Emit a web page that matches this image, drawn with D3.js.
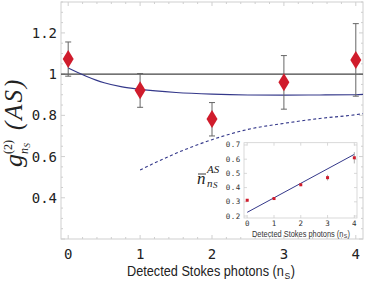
<!DOCTYPE html>
<html><head><meta charset="utf-8">
<script src="https://cdn.jsdelivr.net/npm/d3@7"></script>
<style>body{margin:0;background:#fff}svg{display:block}</style>
</head><body>
<svg id="c" width="365" height="282"></svg>
<script>
// ---- data ----
const stokes = [0, 1, 2, 3, 4];
const g2 = [1.073, 0.922, 0.782, 0.960, 1.068];
const g2Hi = [1.156, 1.003, 0.862, 1.090, 1.245];
const g2Lo = [0.990, 0.839, 0.700, 0.830, 0.893];
const theoryX = [0, 0.25, 0.5, 0.75, 1, 1.5, 2, 2.5, 3, 3.5, 4, 4.1];
const theoryY = [1.030, 0.990, 0.958, 0.938, 0.926, 0.911, 0.903, 0.899, 0.898, 0.899, 0.900, 0.902];
const dashX = [1, 1.5, 2, 2.5, 3, 3.5, 4, 4.1];
const dashY = [0.535, 0.616, 0.682, 0.732, 0.761, 0.785, 0.803, 0.808];
const nAS = [0.311, 0.323, 0.420, 0.470, 0.610];
const nASerr = [0.008, 0.008, 0.010, 0.020, 0.040];
const fitX = [0, 4];
const fitY = [0.226, 0.634];
const yTicks = [0.4, 0.6, 0.8, 1, 1.2];
const xTicks = [0, 1, 2, 3, 4];
const insetYTicks = [0.2, 0.3, 0.4, 0.5, 0.6, 0.7];

const svg = d3.select('#c');
const frameCol = '#cfcfcf';
const navy = '#34388a';
const red = '#d01c2c';
const sans = "'Liberation Sans', Arial, sans-serif";
const serif = "'Liberation Serif', 'DejaVu Serif', serif";
const mono = "'DejaVu Sans Mono', monospace";

// sequential text pieces (separate text elements), centered at cx, scaled to a target width
function seqText(parent, parts, cx, baseline, targetW, family, fill) {
  const g = parent.append('g').attr('font-family', family).attr('fill', fill);
  let xpos = 0;
  parts.forEach(p => {
    const t = g.append('text').attr('x', xpos).attr('y', p.dy || 0)
      .attr('font-size', p.size).text(p.t);
    xpos += t.node().getComputedTextLength() + (p.gap || 0);
  });
  const s = targetW / xpos;
  g.attr('transform', `translate(${cx - targetW / 2},${baseline}) scale(${s},1)`);
  return g;
}

// ---- main scales ----
const x = d3.scaleLinear().domain([-0.1, 4.1]).range([61, 363]);
const y = d3.scaleLinear().domain([0.2, 1.35]).range([239, 2]);

// frame
svg.append('rect').attr('x', 61).attr('y', 2).attr('width', 302).attr('height', 237)
  .attr('fill', 'none').attr('stroke', frameCol).attr('stroke-width', 1);

// ticks inward
const tickG = svg.append('g').attr('stroke', frameCol).attr('stroke-width', 1);
d3.range(0, 4.01, 0.2).forEach(v => {
  const major = Math.abs(v - Math.round(v)) < 1e-6;
  const L = major ? 4 : 2;
  tickG.append('line').attr('x1', x(v)).attr('x2', x(v)).attr('y1', 239).attr('y2', 239 - L);
  tickG.append('line').attr('x1', x(v)).attr('x2', x(v)).attr('y1', 2).attr('y2', 2 + L);
});
d3.range(0.2, 1.351, 0.05).forEach(v => {
  const major = Math.abs(v * 5 - Math.round(v * 5)) < 1e-6;
  const L = major ? 4 : 2;
  tickG.append('line').attr('x1', 61).attr('x2', 61 + L).attr('y1', y(v)).attr('y2', y(v));
  tickG.append('line').attr('x1', 363).attr('x2', 363 - L).attr('y1', y(v)).attr('y2', y(v));
});

// tick labels
svg.append('g').selectAll('text').data(yTicks).join('text')
  .attr('x', 57).attr('y', d => y(d) + 5).attr('text-anchor', 'end')
  .attr('font-family', mono).attr('font-size', 14).attr('fill', '#222')
  .text(d => d === 1 ? '1' : d.toFixed(1));
svg.append('g').selectAll('text').data(xTicks).join('text')
  .attr('x', d => x(d)).attr('y', 259).attr('text-anchor', 'middle')
  .attr('font-family', mono).attr('font-size', 14).attr('fill', '#222')
  .text(d => d);

// x label
seqText(svg, [
  { t: 'Detected Stokes photons (n', size: 14, gap: 0.5 },
  { t: 'S', size: 9.5, dy: 2.5, gap: 0.5 },
  { t: ')', size: 14 }
], 211, 276, 168, sans, '#222');

// y label (rotated)
const yl = svg.append('g').attr('transform', 'translate(0,117) rotate(-90)')
  .attr('font-family', serif).attr('fill', '#222').attr('font-style', 'italic');
yl.append('text').attr('x', -50).attr('y', 22).attr('font-size', 26).text('g');
yl.append('text').attr('x', -37).attr('y', 12).attr('font-size', 12).attr('font-style', 'normal').text('(2)');
yl.append('text').attr('x', -37).attr('y', 28).attr('font-size', 12).text('n');
yl.append('text').attr('x', -30.5).attr('y', 30).attr('font-size', 9).text('S');
yl.append('text').attr('x', -13).attr('y', 22).attr('font-size', 25)
  .attr('letter-spacing', 2).text('(AS)');

// horizontal line at 1
svg.append('line').attr('x1', x(-0.1)).attr('x2', x(4.1)).attr('y1', y(1)).attr('y2', y(1))
  .attr('stroke', '#444').attr('stroke-width', 1.2);

// theory curves
const line = d3.line().curve(d3.curveMonotoneX);
svg.append('path').attr('d', line(theoryX.map((v, i) => [x(v), y(theoryY[i])])))
  .attr('fill', 'none').attr('stroke', navy).attr('stroke-width', 1.1);
svg.append('path').attr('d', line(dashX.map((v, i) => [x(v), y(dashY[i])])))
  .attr('fill', 'none').attr('stroke', navy).attr('stroke-width', 1.1).attr('stroke-dasharray', '3,2.5');

// error bars
const eb = svg.append('g').attr('stroke', '#666').attr('stroke-width', 1);
stokes.forEach((s, i) => {
  eb.append('line').attr('x1', x(s)).attr('x2', x(s)).attr('y1', y(g2Hi[i])).attr('y2', y(g2Lo[i]));
  eb.append('line').attr('x1', x(s) - 3).attr('x2', x(s) + 3).attr('y1', y(g2Hi[i])).attr('y2', y(g2Hi[i]));
  eb.append('line').attr('x1', x(s) - 3).attr('x2', x(s) + 3).attr('y1', y(g2Lo[i])).attr('y2', y(g2Lo[i]));
});
// diamonds
svg.append('g').selectAll('path').data(stokes).join('path')
  .attr('d', (s, i) => {
    const cx = x(s), cy = y(g2[i]), w = 5.5, h = 9;
    return `M${cx},${cy - h}L${cx + w},${cy}L${cx},${cy + h}L${cx - w},${cy}Z`;
  }).attr('fill', red);

// ---- inset ----
const xi = d3.scaleLinear().domain([-0.12, 4.1]).range([244, 357]);
const yi = d3.scaleLinear().domain([0.186, 0.716]).range([218, 142.7]);
svg.append('rect').attr('x', 244).attr('y', 142.7).attr('width', 113).attr('height', 75.3)
  .attr('fill', '#fff').attr('stroke', frameCol).attr('stroke-width', 0.8);
const itg = svg.append('g').attr('stroke', frameCol).attr('stroke-width', 0.8);
xTicks.forEach(v => {
  itg.append('line').attr('x1', xi(v)).attr('x2', xi(v)).attr('y1', 218).attr('y2', 215);
  itg.append('line').attr('x1', xi(v)).attr('x2', xi(v)).attr('y1', 142.7).attr('y2', 145.7);
});
insetYTicks.forEach(v => {
  itg.append('line').attr('x1', 244).attr('x2', 247).attr('y1', yi(v)).attr('y2', yi(v));
  itg.append('line').attr('x1', 357).attr('x2', 354).attr('y1', yi(v)).attr('y2', yi(v));
});
svg.append('g').selectAll('text').data(insetYTicks).join('text')
  .attr('x', 241).attr('y', d => yi(d) + 2.5).attr('text-anchor', 'end')
  .attr('font-family', mono).attr('font-size', 7.5).attr('fill', '#333')
  .attr('letter-spacing', 0.6).text(d => d.toFixed(1));
svg.append('g').selectAll('text').data(xTicks).join('text')
  .attr('x', d => xi(d)).attr('y', 225.5).attr('text-anchor', 'middle')
  .attr('font-family', mono).attr('font-size', 7.5).attr('fill', '#333').text(d => d);
seqText(svg, [
  { t: 'Detected Stokes photons (n', size: 8.5, gap: 0.3 },
  { t: 'S', size: 6, dy: 1.5, gap: 0.3 },
  { t: ')', size: 8.5 }
], 301, 236.5, 98, sans, '#333');

// inset fit line
svg.append('path').attr('d', d3.line()(fitX.map((v, i) => [xi(v), yi(fitY[i])])))
  .attr('stroke', navy).attr('stroke-width', 1).attr('fill', 'none');
// inset points
const ie = svg.append('g').attr('stroke', '#999').attr('stroke-width', 0.8);
stokes.forEach((s, i) => {
  ie.append('line').attr('x1', xi(s)).attr('x2', xi(s)).attr('y1', yi(nAS[i] + nASerr[i])).attr('y2', yi(nAS[i] - nASerr[i]));
});
svg.append('g').selectAll('rect').data(stokes).join('rect')
  .attr('x', s => xi(s) - 1.5).attr('y', (s, i) => yi(nAS[i]) - 1.5)
  .attr('width', 3).attr('height', 3).attr('fill', red);

// inset y label
const il = svg.append('g').attr('font-family', serif).attr('font-style', 'italic').attr('fill', '#222');
il.append('text').attr('x', 197).attr('y', 184).attr('font-size', 17).text('n');
il.append('line').attr('x1', 198).attr('x2', 206).attr('y1', 174).attr('y2', 174)
  .attr('stroke', '#222').attr('stroke-width', 0.9);
il.append('text').attr('x', 207).attr('y', 173).attr('font-size', 11).text('AS');
il.append('text').attr('x', 207).attr('y', 186.5).attr('font-size', 11).text('n');
il.append('text').attr('x', 213).attr('y', 188).attr('font-size', 9).text('S');
</script>
</body></html>
